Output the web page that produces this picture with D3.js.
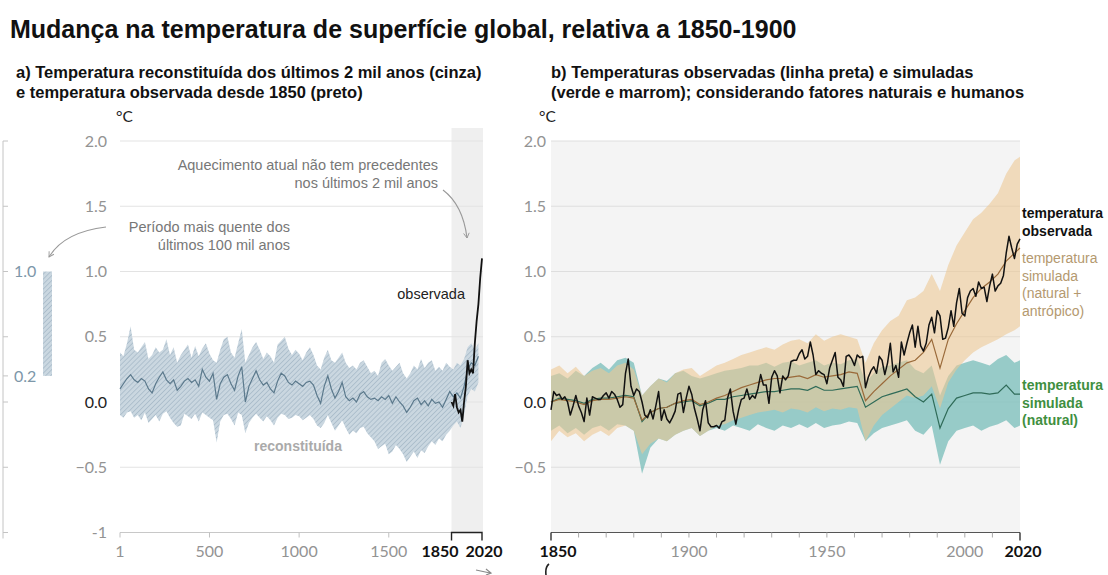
<!DOCTYPE html>
<html><head><meta charset="utf-8">
<script src="https://cdn.jsdelivr.net/npm/d3@7"></script>
<style>body{margin:0;background:#fff} svg{display:block}</style>
</head><body>
<svg id="c" width="1108" height="575"></svg>
<script>
// ---------- DATA ----------
const yTicksLeft = [-1, -0.5, 0, 0.5, 1, 1.5, 2];
const yTicksRight = [-0.5, 0, 0.5, 1, 1.5, 2];
const xTicksLeft = [1, 500, 1000, 1500];
const xTicksRight = [1900, 1950, 2000];
const paleoRange = [0.2, 1.0];

const reconYears = [1,20,40,60,80,100,120,140,160,180,200,220,240,260,280,300,320,340,360,380,400,420,440,460,480,500,520,540,560,580,600,620,640,660,680,700,720,740,760,780,800,820,840,860,880,900,920,940,960,980,1000,1020,1040,1060,1080,1100,1120,1140,1160,1180,1200,1220,1240,1260,1280,1300,1320,1340,1360,1380,1400,1420,1440,1460,1480,1500,1520,1540,1560,1580,1600,1620,1640,1660,1680,1700,1720,1740,1760,1780,1800,1820,1840,1860,1880,1900,1920,1940,1960,1980,2000];
const reconMedian = [0.10,0.14,0.18,0.21,0.17,0.15,0.18,0.16,0.10,0.07,0.14,0.19,0.23,0.17,0.14,0.17,0.09,0.12,0.16,0.18,0.15,0.17,0.12,0.25,0.19,0.16,0.22,0.02,0.14,0.19,0.21,0.14,0.09,0.20,0.27,0.00,0.12,0.18,0.24,0.17,0.13,0.15,0.10,0.07,0.16,0.22,0.20,0.15,0.13,0.16,0.14,0.12,0.15,0.16,0.13,0.05,-0.01,0.12,0.20,0.10,0.03,0.08,0.15,0.04,0.01,0.03,0.00,0.06,0.08,0.04,0.02,0.03,0.01,0.04,0.02,0.05,-0.01,0.04,0.00,-0.03,-0.08,-0.04,0.01,0.03,-0.02,0.01,-0.03,0.02,-0.01,0.00,-0.04,0.02,0.08,0.04,0.07,0.03,0.12,0.25,0.30,0.28,0.35];
const reconUpper = [0.38,0.35,0.45,0.58,0.40,0.38,0.42,0.46,0.33,0.36,0.42,0.38,0.40,0.48,0.36,0.42,0.30,0.36,0.40,0.44,0.34,0.43,0.35,0.41,0.45,0.37,0.32,0.30,0.40,0.48,0.50,0.38,0.34,0.45,0.56,0.30,0.36,0.42,0.46,0.40,0.33,0.38,0.35,0.30,0.44,0.47,0.50,0.41,0.36,0.40,0.37,0.32,0.38,0.42,0.36,0.28,0.25,0.34,0.40,0.32,0.30,0.34,0.38,0.30,0.26,0.28,0.25,0.30,0.32,0.27,0.22,0.24,0.20,0.30,0.33,0.28,0.24,0.27,0.30,0.22,0.18,0.22,0.28,0.25,0.33,0.26,0.30,0.32,0.24,0.27,0.24,0.30,0.27,0.25,0.30,0.28,0.33,0.42,0.45,0.40,0.45];
const reconLower = [-0.10,-0.12,-0.08,-0.07,-0.12,-0.10,-0.14,-0.08,-0.16,-0.13,-0.10,-0.15,-0.09,-0.07,-0.12,-0.16,-0.19,-0.18,-0.09,-0.11,-0.13,-0.09,-0.15,-0.08,-0.10,-0.12,-0.14,-0.31,-0.15,-0.10,-0.09,-0.13,-0.18,-0.08,-0.10,-0.24,-0.16,-0.12,-0.09,-0.12,-0.15,-0.11,-0.14,-0.18,-0.12,-0.09,-0.10,-0.13,-0.12,-0.10,-0.11,-0.14,-0.12,-0.10,-0.13,-0.18,-0.20,-0.16,-0.10,-0.16,-0.22,-0.18,-0.14,-0.20,-0.25,-0.22,-0.24,-0.20,-0.19,-0.24,-0.27,-0.30,-0.36,-0.34,-0.32,-0.40,-0.38,-0.33,-0.36,-0.40,-0.46,-0.42,-0.38,-0.43,-0.37,-0.39,-0.34,-0.30,-0.33,-0.28,-0.30,-0.25,-0.22,-0.18,-0.15,-0.20,-0.10,0.05,0.10,0.08,0.15];

const obsDecadeYears = [1850,1860,1870,1880,1890,1900,1910,1920,1930,1940,1950,1960,1970,1980,1990,2000,2010,2020];
const obsDecade = [0.00,-0.03,0.06,-0.04,-0.08,-0.06,-0.15,0.00,0.12,0.32,0.22,0.25,0.22,0.45,0.62,0.75,0.95,1.10];

const obsStartYear = 1850;
const observed = [-0.06,0.08,0.05,0.06,0.02,0.04,0.00,-0.10,-0.03,0.05,
 -0.03,-0.08,-0.15,0.03,-0.10,0.04,0.03,0.02,0.02,0.05,
 0.07,0.03,0.08,0.06,0.02,-0.04,-0.02,0.22,0.33,0.12,
 0.05,0.10,0.08,0.00,-0.10,-0.12,-0.06,-0.13,-0.03,0.08,
 -0.14,-0.06,-0.13,-0.16,-0.12,-0.07,0.06,0.07,-0.08,0.03,
 0.12,0.06,-0.05,-0.13,-0.22,-0.06,0.01,-0.16,-0.19,-0.19,
 -0.18,-0.20,-0.15,-0.14,0.03,0.10,-0.07,-0.17,-0.06,0.02,
 0.03,0.10,0.02,0.05,0.03,0.10,0.21,0.13,0.13,-0.01,
 0.19,0.24,0.20,0.07,0.20,0.17,0.20,0.31,0.32,0.32,
 0.37,0.40,0.33,0.35,0.46,0.36,0.21,0.24,0.22,0.21,
 0.14,0.26,0.32,0.38,0.19,0.17,0.12,0.35,0.36,0.33,
 0.28,0.36,0.34,0.35,0.11,0.19,0.24,0.27,0.22,0.35,
 0.32,0.21,0.30,0.45,0.23,0.28,0.19,0.46,0.36,0.45,
 0.53,0.59,0.42,0.58,0.43,0.39,0.45,0.59,0.65,0.53,
 0.70,0.66,0.48,0.49,0.57,0.70,0.58,0.76,0.87,0.68,
 0.66,0.80,0.85,0.87,0.81,0.92,0.87,0.88,0.77,0.89,
 0.98,0.85,0.89,0.91,0.97,1.14,1.27,1.18,1.10,1.21,
 1.25];

const simYears = [1850,1853,1856,1859,1862,1865,1868,1871,1874,1877,1880,1883,1886,1889,1892,1895,1898,1901,1904,1907,1910,1913,1916,1919,1922,1925,1928,1931,1934,1937,1940,1943,1946,1949,1952,1955,1958,1961,1964,1967,1970,1973,1976,1979,1982,1985,1988,1991,1994,1997,2000,2003,2006,2009,2012,2015,2018,2020];
const simNatural = [0.00,0.03,0.02,0.01,-0.01,0.02,0.03,0.03,0.04,0.05,0.04,-0.15,-0.08,-0.05,-0.04,-0.01,0.00,0.01,-0.03,-0.01,0.02,0.02,0.04,0.05,0.06,0.07,0.08,0.08,0.09,0.10,0.10,0.09,0.12,0.09,0.09,0.10,0.11,0.12,-0.04,0.00,0.04,0.06,0.08,0.10,0.04,0.00,0.06,-0.20,-0.05,0.03,0.05,0.07,0.07,0.06,0.07,0.13,0.06,0.06];
const simNaturalUpper = [0.20,0.22,0.18,0.24,0.20,0.26,0.30,0.25,0.32,0.34,0.30,0.05,0.12,0.18,0.16,0.22,0.24,0.20,0.18,0.20,0.22,0.24,0.25,0.26,0.28,0.28,0.30,0.27,0.30,0.31,0.28,0.30,0.32,0.28,0.30,0.29,0.32,0.33,0.15,0.22,0.27,0.28,0.30,0.32,0.25,0.22,0.28,0.05,0.20,0.28,0.30,0.32,0.30,0.28,0.33,0.36,0.30,0.32];
const simNaturalLower = [-0.22,-0.18,-0.24,-0.20,-0.25,-0.20,-0.18,-0.22,-0.17,-0.18,-0.22,-0.55,-0.35,-0.28,-0.30,-0.25,-0.22,-0.20,-0.26,-0.22,-0.20,-0.22,-0.18,-0.20,-0.22,-0.17,-0.20,-0.22,-0.18,-0.20,-0.17,-0.20,-0.16,-0.20,-0.18,-0.17,-0.15,-0.16,-0.30,-0.24,-0.20,-0.18,-0.16,-0.14,-0.22,-0.25,-0.18,-0.48,-0.30,-0.22,-0.20,-0.18,-0.22,-0.19,-0.17,-0.14,-0.20,-0.18];
const simHuman = [0.00,0.02,0.01,0.00,-0.02,0.01,0.02,0.02,0.03,0.04,0.03,-0.14,-0.08,-0.05,-0.04,-0.01,0.01,0.02,-0.02,0.00,0.03,0.05,0.08,0.11,0.13,0.15,0.17,0.18,0.18,0.19,0.20,0.18,0.21,0.19,0.20,0.21,0.23,0.22,0.01,0.08,0.14,0.20,0.25,0.30,0.32,0.38,0.48,0.26,0.48,0.60,0.70,0.80,0.87,0.92,0.98,1.08,1.14,1.18];
const simHumanUpper = [0.25,0.28,0.22,0.27,0.20,0.24,0.26,0.22,0.28,0.30,0.25,0.05,0.12,0.18,0.15,0.22,0.25,0.26,0.20,0.24,0.28,0.30,0.33,0.36,0.38,0.40,0.42,0.40,0.44,0.47,0.48,0.45,0.52,0.47,0.50,0.52,0.50,0.48,0.30,0.45,0.55,0.62,0.66,0.78,0.80,0.85,0.98,0.85,1.05,1.20,1.30,1.40,1.45,1.52,1.60,1.75,1.85,1.88];
const simHumanLower = [-0.30,-0.22,-0.27,-0.24,-0.30,-0.25,-0.22,-0.26,-0.20,-0.18,-0.22,-0.40,-0.32,-0.28,-0.30,-0.25,-0.22,-0.20,-0.26,-0.22,-0.18,-0.17,-0.14,-0.12,-0.10,-0.08,-0.07,-0.06,-0.08,-0.05,-0.06,-0.08,-0.04,-0.07,-0.05,-0.06,-0.04,-0.05,-0.30,-0.18,-0.10,-0.05,0.00,0.05,0.03,0.05,0.12,-0.05,0.15,0.25,0.32,0.38,0.42,0.45,0.48,0.52,0.55,0.58];

// ---------- DRAW ----------
const svg = d3.select("#c");
const defs = svg.append("defs");
const pat = defs.append("pattern").attr("id","hatch").attr("patternUnits","userSpaceOnUse")
  .attr("width",3.5).attr("height",3.5).attr("patternTransform","rotate(45)");
pat.append("rect").attr("width",3.5).attr("height",3.5).attr("fill","#cad7e0");
pat.append("line").attr("x1",0).attr("y1",0).attr("x2",0).attr("y2",3.5).attr("stroke","#a3b7c6").attr("stroke-width",1.4);
const mk = defs.append("marker").attr("id","arr").attr("viewBox","0 0 10 10").attr("refX",8).attr("refY",5)
  .attr("markerWidth",7).attr("markerHeight",7).attr("orient","auto-start-reverse").attr("markerUnits","userSpaceOnUse");
mk.append("path").attr("d","M1,1 L8,5 L1,9").attr("fill","none").attr("stroke","#999").attr("stroke-width",1.3);

const SANS = "'Liberation Sans', Arial, Helvetica, sans-serif";
const LATO = "Lato, 'Open Sans', sans-serif";
const TICK = 16;

const y = d3.scaleLinear().domain([-1, 2]).range([532.5, 141]);
const xL = d3.scaleLinear().domain([1, 2020]).range([120, 482]);
const xR = d3.scaleLinear().domain([1850, 2020]).range([551, 1020]);

// Titles
svg.append("text").attr("x",10).attr("y",38).attr("font-family",SANS).attr("font-weight","bold")
  .attr("font-size",25).attr("fill","#111").text("Mudança na temperatura de superfície global, relativa a 1850-1900");
const sub = (x, lines) => lines.forEach((t,i)=> svg.append("text").attr("x",x).attr("y",78+i*20)
  .attr("font-family",SANS).attr("font-weight","bold").attr("font-size",16.5).attr("fill","#111").text(t));
sub(16, ["a) Temperatura reconstituída dos últimos 2 mil anos (cinza)", "e temperatura observada desde 1850 (preto)"]);
sub(551, ["b) Temperaturas observadas (linha preta) e simuladas", "(verde e marrom); considerando fatores naturais e humanos"]);

// ---------- LEFT PANEL ----------
const gL = svg.append("g");
gL.append("rect").attr("x",xL(1850)).attr("width",xL(2020)-xL(1850)+1).attr("y",y(2.1)).attr("height",y(-1)-y(2.1)).attr("fill","#efefef");
yTicksLeft.filter(d=>d>-1).forEach(d=>{
  gL.append("line").attr("x1",120).attr("x2",483).attr("y1",y(d)).attr("y2",y(d)).attr("stroke","#e3e3e3").attr("stroke-width",1);
});
yTicksLeft.forEach(d=>{
  gL.append("text").attr("x",107).attr("y",y(d)).attr("dy","0.35em").attr("text-anchor","end")
    .attr("font-family",LATO).attr("font-size",TICK).attr("fill", d===0 ? "#222" : "#939393")
    .text(d===-1 ? "-1" : d3.format(".1f")(d));
});
svg.append("text").attr("x",116).attr("y",122).attr("font-family",LATO).attr("font-size",15.5).attr("fill","#222").text("°C");
svg.append("text").attr("x",539).attr("y",122).attr("font-family",LATO).attr("font-size",15.5).attr("fill","#222").text("°C");

// paleo side scale
const gP = svg.append("g");
gP.append("line").attr("x1",3).attr("x2",3).attr("y1",y(2)).attr("y2",y(-1)+6).attr("stroke","#c4c4c4");
yTicksLeft.concat([paleoRange[0]]).forEach(d=>{
  gP.append("line").attr("x1",3).attr("x2",8).attr("y1",y(d)).attr("y2",y(d)).attr("stroke","#c4c4c4");
});
gP.append("rect").attr("x",43).attr("width",9).attr("y",y(paleoRange[1])).attr("height",y(paleoRange[0])-y(paleoRange[1])).attr("fill","url(#hatch)");
paleoRange.forEach(d=>{
  gP.append("text").attr("x",14).attr("y",y(d)).attr("dy","0.35em").attr("font-family",LATO).attr("font-size",TICK)
    .attr("fill","#7d97a9").text(d3.format(".1f")(d));
});

// reconstruction band
const recon = reconYears.map((yr,i)=>({yr, m:reconMedian[i], u:reconUpper[i], l:reconLower[i]}));
gL.append("path").datum(recon).attr("fill","url(#hatch)")
  .attr("d", d3.area().x(d=>xL(d.yr)).y0(d=>y(d.l)).y1(d=>y(d.u)));
gL.append("path").datum(recon).attr("fill","none").attr("stroke","#5b798c").attr("stroke-width",1.2)
  .attr("d", d3.line().x(d=>xL(d.yr)).y(d=>y(d.m)));
// observed decadal
const obsD = obsDecadeYears.map((yr,i)=>({yr, v:obsDecade[i]}));
gL.append("path").datum(obsD).attr("fill","none").attr("stroke","#111").attr("stroke-width",1.8)
  .attr("d", d3.line().x(d=>xL(d.yr)).y(d=>y(d.v)));

// left x axis
gL.append("line").attr("x1",120).attr("x2",xL(1850)).attr("y1",y(-1)).attr("y2",y(-1)).attr("stroke","#c8c8c8");
xTicksLeft.forEach(d=>{
  gL.append("line").attr("x1",xL(d)).attr("x2",xL(d)).attr("y1",y(-1)).attr("y2",y(-1)+5).attr("stroke","#c0c0c0");
  gL.append("text").attr("x",xL(d)).attr("y",557).attr("text-anchor","middle").attr("font-family",LATO)
    .attr("font-size",TICK).attr("fill","#939393").text(d);
});
gL.append("path").attr("d",`M${xL(1850)},${y(-1)+8}V${y(-1)}H${xL(2020)}V${y(-1)+8}`).attr("fill","none").attr("stroke","#222").attr("stroke-width",1.4);
gL.append("text").attr("x",xL(1850)+7).attr("y",557).attr("text-anchor","end").attr("font-family",LATO).attr("font-weight","bold")
  .attr("font-size",TICK).attr("fill","#111").text("1850");
gL.append("text").attr("x",xL(2020)+2).attr("y",557).attr("text-anchor","middle").attr("font-family",LATO).attr("font-weight","bold")
  .attr("font-size",TICK).attr("fill","#111").text("2020");

// annotations left
const ann = (x, yy, lines, anchor) => lines.forEach((t,i)=> svg.append("text").attr("x",x).attr("y",yy+i*18)
  .attr("text-anchor",anchor).attr("font-family",SANS).attr("font-size",14.5).attr("fill","#777").text(t));
ann(438, 170, ["Aquecimento atual não tem precedentes", "nos últimos 2 mil anos"], "end");
ann(290, 232, ["Período mais quente dos", "últimos 100 mil anos"], "end");
svg.append("path").attr("d","M443,190 Q463,205 467,238").attr("fill","none").attr("stroke","#999").attr("stroke-width",1.1).attr("marker-end","url(#arr)");
svg.append("path").attr("d","M106,227 Q64,232 49,257").attr("fill","none").attr("stroke","#999").attr("stroke-width",1.1).attr("marker-end","url(#arr)");
svg.append("text").attr("x",465).attr("y",299).attr("text-anchor","end").attr("font-family",SANS).attr("font-size",14.5).attr("fill","#222").text("observada");
svg.append("text").attr("x",298).attr("y",451).attr("text-anchor","middle").attr("font-family",SANS).attr("font-weight","bold").attr("font-size",14).attr("fill","#aaaaaa").text("reconstituída");

// ---------- RIGHT PANEL ----------
const gR = svg.append("g");
gR.append("rect").attr("x",551).attr("width",1020-551).attr("y",y(2)).attr("height",y(-1)-y(2)).attr("fill","#f4f4f4");
yTicksRight.forEach(d=>{
  gR.append("line").attr("x1",551).attr("x2",1020).attr("y1",y(d)).attr("y2",y(d)).attr("stroke","#dedede");
  gR.append("text").attr("x",546).attr("y",y(d)).attr("dy","0.35em").attr("text-anchor","end")
    .attr("font-family",LATO).attr("font-size",TICK).attr("fill", d===0 ? "#222" : "#939393").text(d3.format(".1f")(d));
});
const sim = simYears.map((yr,i)=>({yr, n:simNatural[i], nu:simNaturalUpper[i], nl:simNaturalLower[i], h:simHuman[i], hu:simHumanUpper[i], hl:simHumanLower[i]}));
gR.append("path").datum(sim).attr("fill","#86c3bf").attr("opacity",0.85)
  .attr("d", d3.area().x(d=>xR(d.yr)).y0(d=>y(d.nl)).y1(d=>y(d.nu)));
gR.append("path").datum(sim).attr("fill","#ecc894").attr("opacity",0.6)
  .attr("d", d3.area().x(d=>xR(d.yr)).y0(d=>y(d.hl)).y1(d=>y(d.hu)));
gR.append("path").datum(sim).attr("fill","none").attr("stroke","#2f6b58").attr("stroke-width",1.2)
  .attr("d", d3.line().x(d=>xR(d.yr)).y(d=>y(d.n)));
gR.append("path").datum(sim).attr("fill","none").attr("stroke","#9a6a3a").attr("stroke-width",1.2)
  .attr("d", d3.line().x(d=>xR(d.yr)).y(d=>y(d.h)));
gR.append("path").datum(observed).attr("fill","none").attr("stroke","#111").attr("stroke-width",1.5).attr("stroke-linejoin","round")
  .attr("d", d3.line().x((d,i)=>xR(obsStartYear+i)).y(d=>y(d)));

// right x axis
gR.append("line").attr("x1",551).attr("x2",1020).attr("y1",y(-1)).attr("y2",y(-1)).attr("stroke","#555");
d3.range(1860, 2020, 10).forEach(d=>{
  gR.append("line").attr("x1",xR(d)).attr("x2",xR(d)).attr("y1",y(-1)).attr("y2",y(-1)+5).attr("stroke","#aaa");
});
[1850,2020].forEach(d=>gR.append("line").attr("x1",xR(d)).attr("x2",xR(d)).attr("y1",y(-1)).attr("y2",y(-1)+8).attr("stroke","#333").attr("stroke-width",1.4));
xTicksRight.forEach(d=>gR.append("text").attr("x",xR(d)).attr("y",557).attr("text-anchor","middle").attr("font-family",LATO)
  .attr("font-size",TICK).attr("fill","#939393").text(d));
gR.append("text").attr("x",xR(1850)+7).attr("y",557).attr("text-anchor","middle").attr("font-family",LATO).attr("font-weight","bold").attr("font-size",TICK).attr("fill","#111").text("1850");
gR.append("text").attr("x",xR(2020)+3).attr("y",557).attr("text-anchor","middle").attr("font-family",LATO).attr("font-weight","bold").attr("font-size",TICK).attr("fill","#111").text("2020");

// legend
const leg = (yy, lines, color, weight) => lines.forEach((t,i)=> svg.append("text").attr("x",1022).attr("y",yy+i*17.5)
  .attr("font-family",SANS).attr("font-weight",weight).attr("font-size",14).attr("fill",color).text(t));
leg(218, ["temperatura","observada"], "#111", "bold");
leg(263, ["temperatura","simulada","(natural +","antrópico)"], "#b4996f", "normal");
leg(390, ["temperatura","simulada","(natural)"], "#3f8f3f", "bold");

// cropped fragments at the bottom edge of the source picture
svg.append("path").attr("d","M476,570 L490,573 M486,569 L491,573 L486,575").attr("fill","none").attr("stroke","#888").attr("stroke-width",1.2);
svg.append("path").attr("d","M549,564 Q545,567 546,575").attr("fill","none").attr("stroke","#222").attr("stroke-width",1.6);
</script>
</body></html>
